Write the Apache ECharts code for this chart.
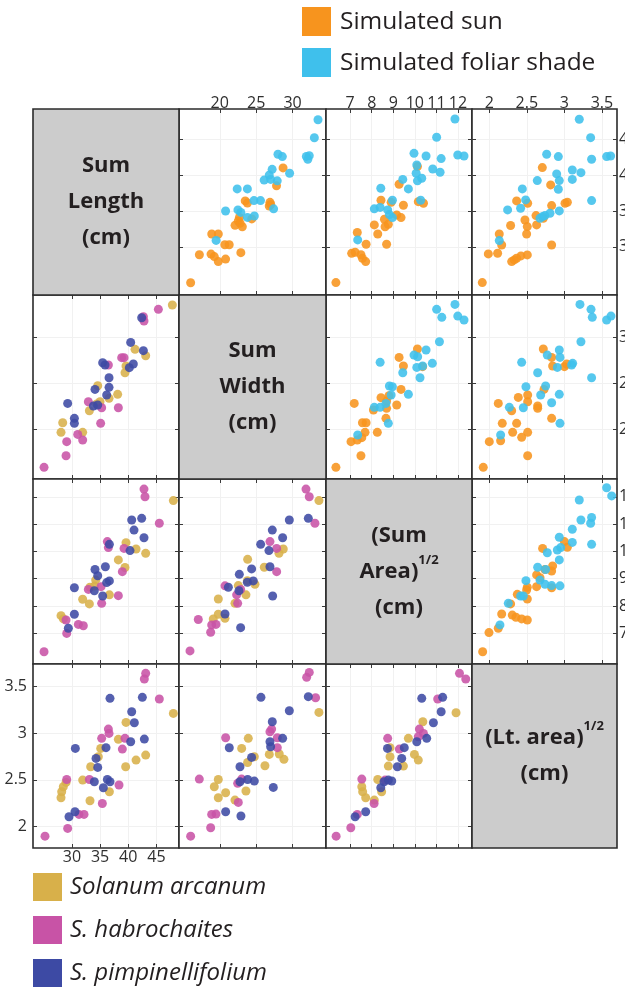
<!DOCTYPE html>
<html><head><meta charset="utf-8">
<script src="https://cdn.jsdelivr.net/npm/echarts@6/dist/echarts.min.js"></script>
<style>html,body{margin:0;padding:0;background:#fff}#c{width:625px;height:990px}</style>
</head><body><div id="c"></div>
<script>
// ---------- tick labels ----------
const lengthTicks = [30, 35, 40, 45];
const widthTicks = [20, 25, 30];
const areaTicks = [7, 8, 9, 10, 11, 12];
const ltTicks = [2, 2.5, 3, 3.5];

// ---------- legend / labels ----------
const treatmentNames = ['Simulated sun', 'Simulated foliar shade'];
const speciesNames = ['Solanum arcanum', 'S. habrochaites', 'S. pimpinellifolium'];

// ---------- upper triangle: sun vs shade ([x, y]) ----------
// row 1 col 2: x = Sum Width, y = Sum Length
const sunWidLen = [[28.7,41.0],[27.8,38.5],[23.5,36.4],[23.8,36.1],[26.9,36.2],[27.0,35.9],[26.8,35.7],[24.4,33.9],[22.7,34.1],[22.55,33.6],[22.1,33.0],[23.1,32.8],[22.8,33.3],[18.9,31.8],[19.8,31.8],[20.7,30.3],[21.3,30.3],[17.2,28.9],[18.8,29.0],[19.25,28.65],[19.8,27.95],[20.8,28.3],[22.9,29.2],[16.0,25.0]];
const shadeWidLen = [[33.5,47.7],[33.0,45.2],[28.0,42.9],[28.6,42.57],[31.9,42.6],[32.3,42.7],[32.1,42.2],[27.2,40.8],[29.6,40.25],[26.8,40.0],[26.1,39.3],[27.0,39.4],[27.9,39.2],[22.4,38.07],[23.8,38.07],[24.7,36.45],[25.6,36.45],[27.4,35.3],[20.8,35.0],[22.5,35.15],[22.9,34.8],[23.8,34.1],[24.75,34.3],[19.5,30.9]];
// row 1 col 3: x = (Sum Area)^1/2, y = Sum Length
const sunAreaLen = [[10.12,41.18],[9.27,38.72],[8.43,36.5],[8.9,36.2],[10.16,36.3],[10.4,36.07],[9.47,35.8],[9.16,34.45],[9.36,34.08],[8.59,33.85],[8.77,33.15],[8.62,32.8],[8.12,33.06],[8.28,31.8],[7.33,32.0],[7.74,30.37],[8.69,30.37],[7.07,29.1],[7.23,29.25],[7.5,28.9],[7.57,28.4],[7.72,27.95],[6.34,25.03]];
const shadeAreaLen = [[11.86,47.8],[11.01,45.26],[9.96,43.03],[10.52,42.66],[11.22,42.29],[11.99,42.8],[12.28,42.66],[10.09,41.4],[10.83,40.85],[11.17,40.39],[10.06,40.25],[10.32,39.55],[10.12,39.2],[9.44,39.4],[9.7,38.07],[8.42,38.16],[10.27,36.5],[8.96,36.5],[8.12,35.3],[8.39,35.5],[8.74,35.15],[8.82,34.5],[8.96,34.08],[7.35,30.97]];
// row 1 col 4: x = (Lt. area)^1/2, y = Sum Length
const sunLtLen = [[2.706,41.04],[2.817,38.63],[2.364,36.4],[2.511,36.07],[2.83,35.75],[3.008,36.07],[3.039,36.21],[2.622,34.36],[2.719,33.99],[2.475,33.75],[2.506,32.83],[2.284,32.97],[2.63,33.06],[2.497,31.8],[2.133,31.8],[2.165,30.27],[2.83,30.27],[1.987,29.02],[2.111,29.11],[2.298,27.95],[2.333,28.19],[2.364,28.42],[2.422,28.74],[2.506,28.88],[1.907,25.03]];
const shadeLtLen = [[3.198,47.77],[3.349,45.21],[2.764,42.9],[2.919,42.57],[3.362,42.2],[3.562,42.57],[3.615,42.66],[3.105,40.71],[3.22,40.34],[2.897,40.16],[2.932,39.23],[3.105,39.4],[2.639,39.23],[2.919,38.02],[2.44,38.07],[2.484,36.54],[2.417,35.38],[3.362,36.45],[2.244,35.15],[2.675,33.99],[2.71,34.22],[2.741,34.36],[2.808,34.68],[2.932,35.01],[2.133,30.88]];
// row 2 col 3: x = (Sum Area)^1/2, y = Sum Width
const sunAreaWid = [[10.12,28.73],[9.27,27.82],[9.47,26.88],[10.36,26.81],[9.36,24.34],[8.43,23.44],[8.69,23.07],[9.16,22.64],[7.19,22.82],[8.08,22.1],[8.69,22.28],[8.66,21.19],[7.57,20.72],[7.74,20.72],[7.69,19.67],[8.26,19.67],[7.04,18.66],[7.33,18.84],[7.54,19.09],[7.5,17.13],[6.34,15.87],[8.8,23.66]];
const shadeAreaWid = [[11.86,33.58],[11.01,33.04],[11.25,32.17],[11.99,32.31],[12.28,31.88],[11.14,29.52],[10.52,28.62],[9.96,28.07],[10.13,27.89],[10.81,27.17],[10.09,26.73],[10.36,26.88],[8.39,27.28],[9.44,26.15],[10.24,25.61],[8.82,24.71],[8.96,24.63],[8.9,23.73],[9.7,23.8],[8.12,22.39],[8.39,22.39],[8.66,22.82],[8.77,20.65],[7.35,19.38]];
// row 2 col 4: x = (Lt. area)^1/2, y = Sum Width
const sunLtWid = [[2.719,28.73],[2.83,27.82],[2.843,26.88],[3.0,26.81],[3.03,27.1],[2.728,24.34],[2.511,23.73],[2.386,23.47],[2.511,23.0],[2.12,22.82],[2.298,22.02],[2.644,22.53],[2.644,22.28],[2.173,20.65],[2.364,20.65],[2.311,19.67],[2.511,19.67],[2.431,19.13],[2.0,18.66],[2.151,18.76],[2.83,21.19],[2.511,17.13],[1.92,15.87]];
const shadeLtWid = [[3.207,33.58],[3.354,33.04],[3.371,32.17],[3.562,31.88],[3.62,32.31],[3.22,29.52],[2.932,28.62],[2.772,28.07],[2.941,27.82],[3.11,27.17],[3.096,26.99],[2.906,26.73],[2.431,27.28],[2.644,26.15],[3.362,25.61],[2.488,24.63],[2.75,24.71],[2.684,23.73],[2.932,23.8],[2.83,22.89],[2.267,22.39],[2.453,22.35],[2.151,19.38],[2.941,20.65]];
// row 3 col 4: x = (Lt. area)^1/2, y = (Sum Area)^1/2
const sunLtArea = [[3.0,10.36],[3.039,10.15],[2.71,10.11],[2.843,9.47],[2.83,9.28],[2.741,9.34],[2.63,9.14],[2.675,9.04],[2.506,8.69],[2.497,8.59],[2.83,8.67],[2.63,8.71],[2.373,8.43],[2.506,8.26],[2.284,8.08],[2.165,7.71],[2.306,7.67],[2.355,7.59],[2.431,7.53],[2.506,7.49],[2.12,7.19],[1.996,7.03],[1.912,6.33]];
const shadeLtArea = [[3.562,12.33],[3.629,12.03],[3.198,11.88],[3.22,11.15],[3.362,11.24],[3.349,11.03],[3.105,10.81],[2.932,10.52],[3.105,10.33],[3.362,10.26],[2.95,10.14],[2.906,10.05],[2.772,9.95],[2.932,9.69],[2.644,9.42],[2.75,9.34],[2.488,8.93],[2.675,8.95],[2.741,8.8],[2.83,8.75],[2.941,8.74],[2.417,8.37],[2.453,8.37],[2.253,8.1],[2.142,7.31]];

// ---------- lower triangle: species ([x, y]) ----------
// row 2 col 1: x = Sum Length, y = Sum Width
const arcLenWid = [[47.82,33.51],[41.2,28.69],[43.09,28.0],[39.6,26.88],[39.42,26.15],[34.58,24.74],[38.12,23.8],[36.59,23.37],[33.1,22.02],[28.37,20.72],[28.07,19.67],[31.91,19.67],[34.4,22.75],[34.99,23.0]];
const habLenWid = [[45.34,33.04],[42.68,32.24],[42.79,31.77],[39.25,27.79],[38.83,27.79],[36.47,26.99],[32.92,23.0],[35.28,22.35],[38.24,22.35],[35.1,20.65],[31.03,19.45],[31.91,18.84],[29.08,18.66],[28.96,17.13],[25.06,15.87]];
const pimLenWid = [[42.38,32.13],[40.43,29.45],[42.68,28.55],[40.9,27.1],[40.19,26.7],[35.46,27.24],[35.88,26.99],[36.59,25.61],[36.59,24.56],[34.1,24.34],[36.17,23.73],[29.25,22.82],[33.81,22.53],[34.58,22.64],[30.44,21.19],[30.44,20.65]];
// row 3 col 1: x = Sum Length, y = (Sum Area)^1/2
const arcLenArea = [[48.0,11.86],[39.6,10.32],[41.38,10.09],[43.09,9.93],[38.24,9.69],[39.42,9.41],[34.22,8.95],[33.98,8.73],[33.2,8.69],[36.65,8.41],[31.91,8.25],[33.1,8.08],[28.07,7.65],[28.5,7.53]];
const habLenArea = [[42.79,12.28],[42.97,12.0],[45.51,11.03],[36.29,10.36],[36.47,10.14],[39.25,10.11],[38.95,9.26],[35.17,8.71],[32.92,8.61],[38.24,8.38],[35.28,8.1],[31.15,7.33],[32.03,7.28],[29.08,7.0],[28.96,7.49],[25.06,6.33]];
const pimLenArea = [[40.61,11.15],[42.38,11.21],[41.02,10.78],[42.79,10.5],[40.31,10.03],[36.65,10.26],[35.94,9.44],[34.1,9.34],[34.58,9.11],[36.65,8.92],[36.17,8.86],[33.98,8.56],[35.46,8.37],[30.44,8.67],[30.44,7.7],[29.37,7.19]];
// row 3 col 2: x = Sum Width, y = (Sum Area)^1/2
const arcWidArea = [[33.63,11.86],[28.73,10.09],[28.14,9.93],[23.83,9.71],[26.12,9.42],[22.55,8.75],[23.79,8.93],[24.84,8.8],[23.6,8.41],[19.8,8.26],[22.09,8.1],[19.8,7.7],[19.11,7.53],[20.72,7.55]];
const habWidArea = [[31.85,12.28],[32.3,12.0],[33.08,11.03],[26.9,10.36],[27.82,10.11],[27.82,9.26],[20.72,8.74],[22.87,8.61],[22.32,8.41],[22.46,8.1],[17.05,7.51],[18.89,7.31],[19.48,7.33],[18.75,7.04],[15.91,6.36]];
const pimWidArea = [[29.56,11.15],[32.17,11.21],[27.22,10.78],[28.64,10.5],[25.62,10.26],[26.76,10.03],[24.38,9.36],[26.9,9.44],[22.69,9.16],[21.18,8.69],[23.79,8.87],[24.61,8.92],[22.64,8.56],[27.27,8.37],[20.72,7.71],[22.87,7.21]];
// row 4 col 1: x = Sum Length, y = (Lt. area)^1/2
const arcLenLt = [[48.0,3.211],[39.6,3.115],[38.24,2.933],[35.11,2.836],[34.69,2.747],[33.33,2.64],[41.38,2.711],[43.09,2.765],[39.54,2.64],[31.91,2.497],[28.96,2.472],[28.48,2.426],[28.19,2.372],[28.07,2.308],[33.21,2.276],[36.65,2.372]];
const habLenLt = [[43.09,3.64],[42.85,3.579],[45.51,3.365],[36.47,3.043],[36.59,2.997],[35.28,2.944],[39.42,2.944],[38.95,2.829],[29.08,2.504],[33.1,2.504],[38.36,2.444],[35.4,2.247],[31.26,2.13],[32.15,2.13],[29.25,1.98],[25.23,1.897]];
const pimLenLt = [[36.76,3.372],[42.5,3.383],[40.61,3.229],[41.08,3.111],[42.85,2.936],[40.43,2.908],[36.05,2.844],[30.61,2.836],[34.28,2.729],[34.58,2.633],[33.98,2.479],[36.29,2.504],[36.76,2.479],[35.58,2.415],[30.55,2.158],[29.49,2.104]];
// row 4 col 2: x = Sum Width, y = (Lt. area)^1/2
const arcWidLt = [[33.63,3.222],[28.82,2.719],[28.18,2.776],[26.81,2.772],[23.92,2.944],[23.01,2.836],[23.83,2.686],[26.21,2.651],[24.75,2.747],[19.8,2.504],[19.25,2.426],[19.8,2.308],[20.81,2.362],[22.09,2.283],[23.6,2.38]];
const habWidLt = [[31.94,3.597],[32.3,3.65],[33.17,3.379],[26.9,3.015],[27.13,3.043],[27.91,2.951],[27.91,2.844],[20.81,2.951],[17.19,2.508],[23.01,2.508],[22.46,2.462],[22.55,2.258],[18.89,2.13],[19.48,2.133],[18.75,1.987],[16.0,1.897]];
const pimWidLt = [[25.66,3.383],[29.56,3.24],[32.17,3.39],[27.22,3.122],[28.64,2.944],[26.9,2.908],[26.99,2.854],[24.38,2.74],[21.31,2.843],[22.78,2.64],[22.78,2.479],[23.83,2.504],[24.75,2.486],[27.36,2.419],[20.81,2.158],[22.91,2.112]];
// row 4 col 3: x = (Sum Area)^1/2, y = (Lt. area)^1/2
const arcAreaLt = [[11.91,3.218],[10.37,3.122],[9.7,2.944],[8.85,2.844],[8.85,2.747],[9.98,2.772],[10.16,2.711],[9.47,2.647],[8.77,2.647],[8.28,2.504],[7.54,2.426],[7.58,2.372],[7.72,2.308],[8.46,2.372],[8.12,2.283]];
const habAreaLt = [[12.07,3.64],[12.36,3.579],[11.06,3.365],[10.21,3.043],[10.4,2.997],[10.16,2.961],[9.28,2.829],[8.74,2.944],[7.54,2.508],[8.62,2.497],[8.11,2.247],[7.33,2.13],[7.03,1.987],[6.35,1.897]];
const pimAreaLt = [[10.32,3.372],[11.29,3.383],[11.22,3.229],[10.86,3.111],[10.55,2.944],[10.09,2.908],[9.51,2.844],[8.73,2.836],[9.39,2.729],[9.19,2.64],[8.93,2.487],[8.77,2.497],[8.57,2.479],[8.42,2.415],[7.72,2.158],[7.23,2.104]];

// ---------- layout / style ----------
const FONT = '"Open Sans", "Noto Sans", sans-serif';
const treatmentColors = ['#F7941E', '#3FC0EC'];
const speciesColors = ['#D8B04A', '#C853A6', '#3D4AA4'];
const colLeft = [33, 179, 326, 472], colW = [146, 147, 146, 145];
const rowTop = [109, 295, 479, 664], rowH = [186, 184, 185, 184];
const vars = ['len', 'wid', 'area', 'lt'];
const xRange = {len: [23.1, 49.0], wid: [14.4, 34.6], area: [5.88, 12.65], lt: [1.77, 3.70]};
const yRange = {len: [23.3, 49.2], wid: [14.6, 34.6], area: [5.88, 12.65], lt: [1.77, 3.74]};
const tickVals = {len: lengthTicks, wid: widthTicks, area: areaTicks, lt: ltTicks};

const panels = [
  {r:0, c:1, groups:[sunWidLen, shadeWidLen], colors: treatmentColors},
  {r:0, c:2, groups:[sunAreaLen, shadeAreaLen], colors: treatmentColors},
  {r:0, c:3, groups:[sunLtLen, shadeLtLen], colors: treatmentColors},
  {r:1, c:2, groups:[sunAreaWid, shadeAreaWid], colors: treatmentColors},
  {r:1, c:3, groups:[sunLtWid, shadeLtWid], colors: treatmentColors},
  {r:2, c:3, groups:[sunLtArea, shadeLtArea], colors: treatmentColors},
  {r:1, c:0, groups:[arcLenWid, habLenWid, pimLenWid], colors: speciesColors},
  {r:2, c:0, groups:[arcLenArea, habLenArea, pimLenArea], colors: speciesColors},
  {r:2, c:1, groups:[arcWidArea, habWidArea, pimWidArea], colors: speciesColors},
  {r:3, c:0, groups:[arcLenLt, habLenLt, pimLenLt], colors: speciesColors},
  {r:3, c:1, groups:[arcWidLt, habWidLt, pimWidLt], colors: speciesColors},
  {r:3, c:2, groups:[arcAreaLt, habAreaLt, pimAreaLt], colors: speciesColors}
];

const grids = [], xAxes = [], yAxes = [], series = [];
function mkAxis(dim, v, pos, gi, showLabel, margin) {
  const rng = dim === 'x' ? xRange[v] : yRange[v];
  return {
    type: 'value', gridIndex: gi, position: pos, min: rng[0], max: rng[1],
    axisLine: {show: false},
    axisTick: {show: true, inside: true, length: 4, customValues: tickVals[v], lineStyle: {color: '#3a3a3a', width: 1}},
    axisLabel: {show: showLabel, customValues: tickVals[v], margin: margin, fontSize: 16, color: '#2f2f2f', fontFamily: FONT, hideOverlap: false},
    splitLine: {show: pos === 'bottom' || pos === 'left', lineStyle: {color: '#f1f1f1', width: 1}}
  };
}
panels.forEach((p, gi) => {
  grids.push({left: colLeft[p.c], top: rowTop[p.r], width: colW[p.c], height: rowH[p.r],
    outerBoundsMode: 'none', containLabel: false,
    show: true, backgroundColor: '#ffffff', borderColor: '#2b2b2b', borderWidth: 1.6});
  const xv = vars[p.c], yv = vars[p.r];
  const xi = xAxes.length, yi = yAxes.length;
  xAxes.push(mkAxis('x', xv, 'bottom', gi, p.r === 3 && p.c === 0, 1));
  xAxes.push(mkAxis('x', xv, 'top', gi, p.r === 0, -2));
  yAxes.push(mkAxis('y', yv, 'left', gi, p.r === 3 && p.c === 0, 6));
  yAxes.push(mkAxis('y', yv, 'right', gi, p.c === 3, 2));
  p.groups.forEach((g, k) => {
    series.push({type: 'scatter', xAxisIndex: xi, yAxisIndex: yi, data: g, symbolSize: 9,
      itemStyle: {color: p.colors[k], opacity: 0.88}, silent: true, z: 3 + k});
  });
});

const graphics = [];
const diagText = [
  '{m|Sum}\n{m|Length}\n{m|(cm)}',
  '{m|Sum}\n{m|Width}\n{m|(cm)}',
  '{m|(Sum}\n{m|Area)}{s|1/2}\n{m|(cm)}',
  '{m|(Lt. area)}{s|1/2}\n{m|(cm)}'
];
for (let i = 0; i < 4; i++) {
  graphics.push({type: 'rect', shape: {x: colLeft[i], y: rowTop[i], width: colW[i], height: rowH[i]},
    style: {fill: '#cccccc', stroke: '#2b2b2b', lineWidth: 1.6}, z: 1});
  graphics.push({type: 'text', x: colLeft[i] + colW[i] / 2, y: rowTop[i] + rowH[i] / 2, z: 2,
    style: {text: diagText[i], align: 'center', verticalAlign: 'middle',
      rich: {
        m: {fontSize: 22, fontWeight: 'bold', fontFamily: FONT, lineHeight: 36, fill: '#231f20', color: '#231f20'},
        s: {fontSize: 13, fontWeight: 'bold', fontFamily: FONT, lineHeight: 20, verticalAlign: 'top', fill: '#231f20', color: '#231f20'}
      }}});
}
// legends
const topLegY = [22, 63];
treatmentNames.forEach((n, k) => {
  graphics.push({type: 'rect', shape: {x: 302, y: topLegY[k] - 15, width: 29, height: 29}, style: {fill: treatmentColors[k]}});
  graphics.push({type: 'text', x: 340, y: topLegY[k], style: {text: n, align: 'left', verticalAlign: 'middle',
    fontSize: 24.5, fontFamily: FONT, fill: '#231f20'}});
});
const botLegY = [887, 930, 973];
speciesNames.forEach((n, k) => {
  graphics.push({type: 'rect', shape: {x: 33, y: botLegY[k] - 14, width: 29, height: 28}, style: {fill: speciesColors[k]}});
  graphics.push({type: 'text', x: 70, y: botLegY[k], style: {text: n, align: 'left', verticalAlign: 'middle',
    fontSize: 24, fontStyle: 'italic', fontFamily: FONT, fill: '#231f20'}});
});

const chart = echarts.init(document.getElementById('c'), null, {renderer: 'canvas'});
chart.setOption({
  animation: false,
  backgroundColor: '#ffffff',
  grid: grids, xAxis: xAxes, yAxis: yAxes, series: series,
  graphic: graphics
});
</script></body></html>
